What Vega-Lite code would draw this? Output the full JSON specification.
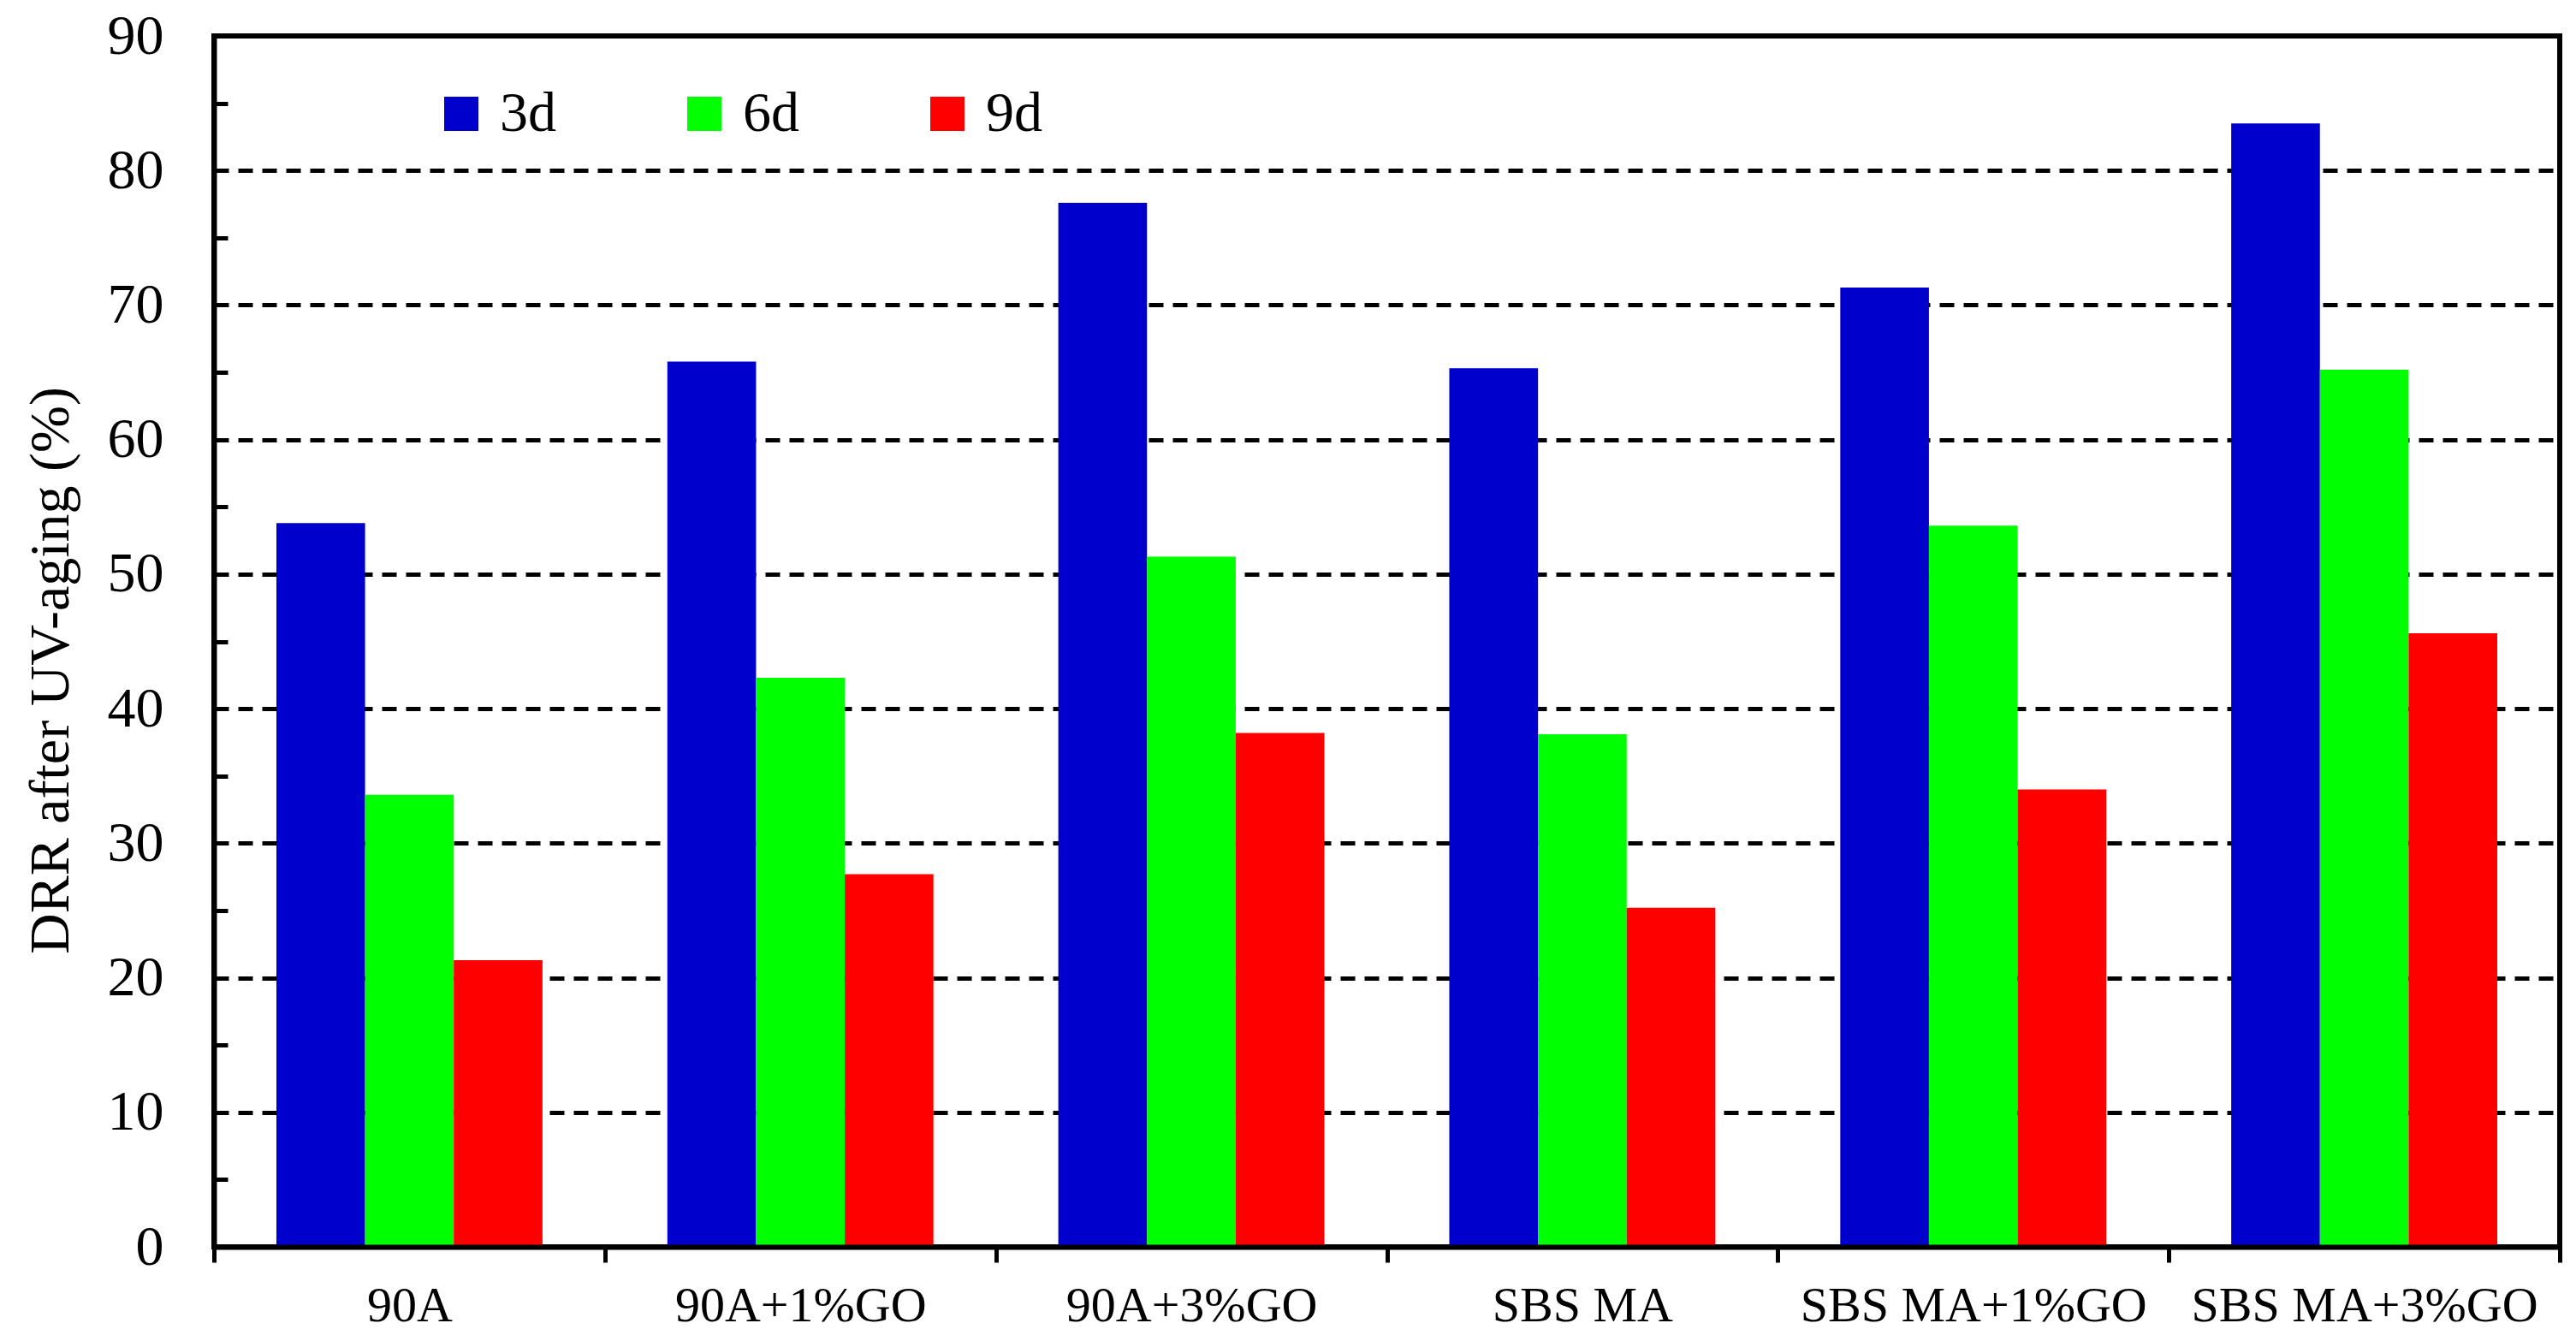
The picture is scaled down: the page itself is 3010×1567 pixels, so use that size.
{
  "$schema": "https://vega.github.io/schema/vega-lite/v6.json",
  "autosize": "none",
  "padding": {"left": 250, "top": 42, "right": 19, "bottom": 110},
  "width": 2741,
  "height": 1415,
  "background": "white",
  "config": {
    "view": {"stroke": "black", "strokeWidth": 6},
    "font": "Liberation Serif"
  },
  "data": {
    "values": [
      {"binder": "90A", "aging": "3d", "drr": 53.8},
      {"binder": "90A", "aging": "6d", "drr": 33.6},
      {"binder": "90A", "aging": "9d", "drr": 21.3},
      {"binder": "90A+1%GO", "aging": "3d", "drr": 65.8},
      {"binder": "90A+1%GO", "aging": "6d", "drr": 42.3},
      {"binder": "90A+1%GO", "aging": "9d", "drr": 27.7},
      {"binder": "90A+3%GO", "aging": "3d", "drr": 77.6},
      {"binder": "90A+3%GO", "aging": "6d", "drr": 51.3},
      {"binder": "90A+3%GO", "aging": "9d", "drr": 38.2},
      {"binder": "SBS MA", "aging": "3d", "drr": 65.3},
      {"binder": "SBS MA", "aging": "6d", "drr": 38.1},
      {"binder": "SBS MA", "aging": "9d", "drr": 25.2},
      {"binder": "SBS MA+1%GO", "aging": "3d", "drr": 71.3},
      {"binder": "SBS MA+1%GO", "aging": "6d", "drr": 53.6},
      {"binder": "SBS MA+1%GO", "aging": "9d", "drr": 34.0},
      {"binder": "SBS MA+3%GO", "aging": "3d", "drr": 83.5},
      {"binder": "SBS MA+3%GO", "aging": "6d", "drr": 65.2},
      {"binder": "SBS MA+3%GO", "aging": "9d", "drr": 45.6}
    ]
  },
  "mark": {"type": "bar"},
  "encoding": {
    "x": {
      "field": "binder",
      "type": "nominal",
      "sort": ["90A", "90A+1%GO", "90A+3%GO", "SBS MA", "SBS MA+1%GO", "SBS MA+3%GO"],
      "scale": {"paddingInner": 0, "paddingOuter": 0},
      "axis": {
        "title": null,
        "labelAngle": 0,
        "labelFont": "Liberation Serif",
        "labelFontSize": 58,
        "labelColor": "black",
        "labelPadding": 22,
        "labelLimit": 0,
        "tickBand": "extent",
        "tickSize": 18,
        "tickWidth": 5,
        "tickColor": "black",
        "domainColor": "black",
        "domainWidth": 6,
        "grid": false,
        "zindex": 1
      }
    },
    "xOffset": {
      "field": "aging",
      "type": "nominal",
      "scale": {"paddingInner": 0, "paddingOuter": 0.704}
    },
    "y": {
      "field": "drr",
      "type": "quantitative",
      "scale": {"domain": [0, 90], "nice": false},
      "axis": {
        "title": "DRR after UV-aging (%)",
        "titleFont": "Liberation Serif",
        "titleFontSize": 66,
        "titleFontWeight": "normal",
        "titleColor": "black",
        "titlePadding": 32,
        "titleY": 741,
        "values": [0, 5, 10, 15, 20, 25, 30, 35, 40, 45, 50, 55, 60, 65, 70, 75, 80, 85, 90],
        "labelExpr": "datum.value % 10 === 0 ? datum.label : ''",
        "labelFont": "Liberation Serif",
        "labelFontSize": 66,
        "labelColor": "black",
        "labelPadding": 75,
        "tickSize": -16,
        "tickWidth": 5,
        "tickColor": "black",
        "domainColor": "black",
        "domainWidth": 6,
        "grid": true,
        "gridColor": "black",
        "gridWidth": 5,
        "gridDash": [17, 11],
        "gridOpacity": {
          "condition": {"test": "datum.value % 10 === 0 && datum.value > 0 && datum.value < 90", "value": 1},
          "value": 0
        }
      }
    },
    "color": {
      "field": "aging",
      "type": "nominal",
      "scale": {"domain": ["3d", "6d", "9d"], "range": ["#0000CC", "#00FF00", "#FF0000"]},
      "legend": {
        "title": null,
        "orient": "none",
        "legendX": 256,
        "legendY": 58,
        "direction": "horizontal",
        "symbolType": "square",
        "symbolSize": 1600,
        "symbolStrokeWidth": 0,
        "symbolOpacity": 1,
        "labelFont": "Liberation Serif",
        "labelFontSize": 66,
        "labelColor": "black",
        "labelOffset": 12,
        "columnPadding": 140,
        "padding": 0
      }
    }
  }
}
